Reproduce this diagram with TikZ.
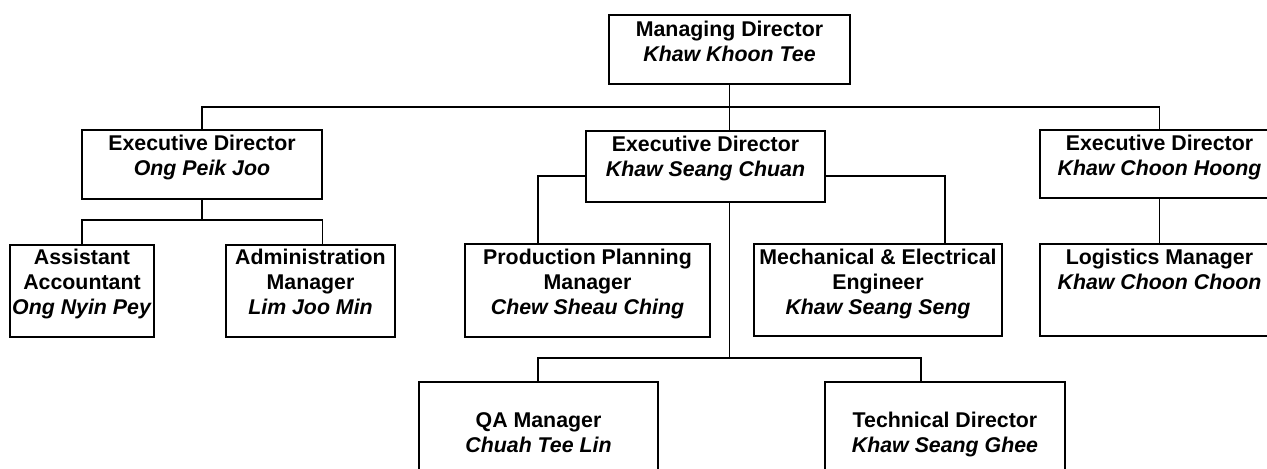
\documentclass[tikz,border=0pt]{standalone}
\usepackage{fontspec}
\setmainfont{Liberation Sans}
\usetikzlibrary{positioning}
\usetikzlibrary{fit}

\begin{document}
\begin{tikzpicture}[x=0.75pt,y=-0.75pt,
  box/.style={draw, line width=1pt, inner sep=0pt},
  txt/.style={align=center, inner sep=0pt, font=\fontsize{16}{18.75}\selectfont\bfseries},
  link/.style={line width=1pt}]
\useasboundingbox (0,0) rectangle (1267,468);
\clip (0,0) rectangle (1267,468);

% boxes
\node[box, fit={(609,15) (850,84)}] (md) {};
\node[box, fit={(82,130) (322,199)}] (edA) {};
\node[box, fit={(586,131) (825,202)}] (edB) {};
\node[box, fit={(1040,130) (1279,198)}] (edC) {};
\node[box, fit={(10,245) (154,337)}] (acc) {};
\node[box, fit={(226,245) (395,337)}] (adm) {};
\node[box, fit={(465,244) (710,337)}] (ppm) {};
\node[box, fit={(754,244) (1002,336)}] (mee) {};
\node[box, fit={(1040,244) (1279,336)}] (log) {};
\node[box, fit={(419,382) (658,490)}] (qa) {};
\node[box, fit={(825,382) (1065,490)}] (tech) {};

% names and titles
\node[txt, below=4.5pt of md.north] (mdT) {Managing Director\\\textit{Khaw Khoon Tee}};
\node[txt, below=4pt of edA.north] (edAT) {Executive Director\\\textit{Ong Peik Joo}};
\node[txt, below=4pt of edB.north] (edBT) {Executive Director\\\textit{Khaw Seang Chuan}};
\node[txt, below=4pt of edC.north] (edCT) {Executive Director\\\textit{Khaw Choon Hoong}};
\node[txt, below=3.4pt of acc.north] (accT) {Assistant\\Accountant\\\textit{Ong Nyin Pey}};
\node[txt, below=3.4pt of adm.north] (admT) {Administration\\Manager\\\textit{Lim Joo Min}};
\node[txt, below=4pt of ppm.north] (ppmT) {Production Planning\\Manager\\\textit{Chew Sheau Ching}};
\node[txt, below=4pt of mee.north] (meeT) {Mechanical \& Electrical\\Engineer\\\textit{Khaw Seang Seng}};
\node[txt, below=4pt of log.north] (logT) {Logistics Manager\\\textit{Khaw Choon Choon}};
\node[txt, below=23pt of qa.north] (qaT) {QA Manager\\\textit{Chuah Tee Lin}};
\node[txt, below=23pt of tech.north] (techT) {Technical Director\\\textit{Khaw Seang Ghee}};

% bends of the lines
\coordinate (bus) at (0,107);
\coordinate (splitA) at (202,220);
\coordinate (armL) at (538,176);
\coordinate (armR) at (945,176);
\coordinate (dropQ) at (538,358);
\coordinate (dropT) at (921,358);

% lines
\draw[link] (md.south) -- (md.south |- edB.north);
\draw[link] (edA.north) -- (edA.north |- bus) -- (edC.north |- bus) -- (edC.north);
\draw[link] (edA.south) -- (splitA);
\draw[link] (acc.north) -- (acc.north |- splitA) -- (edA.east |- splitA) -- (edA.east |- adm.north);
\draw[link] (edB.west |- armL) -- (armL) -- (armL |- ppm.north);
\draw[link] (edB.east |- armR) -- (armR) -- (armR |- mee.north);
\draw[link] (md.south |- edB.south) -- (md.south |- dropQ);
\draw[link] (dropQ |- qa.north) -- (dropQ) -- (dropT) -- (dropT |- tech.north);
\draw[link] (edC.south) -- (log.north);
\end{tikzpicture}
\end{document}
